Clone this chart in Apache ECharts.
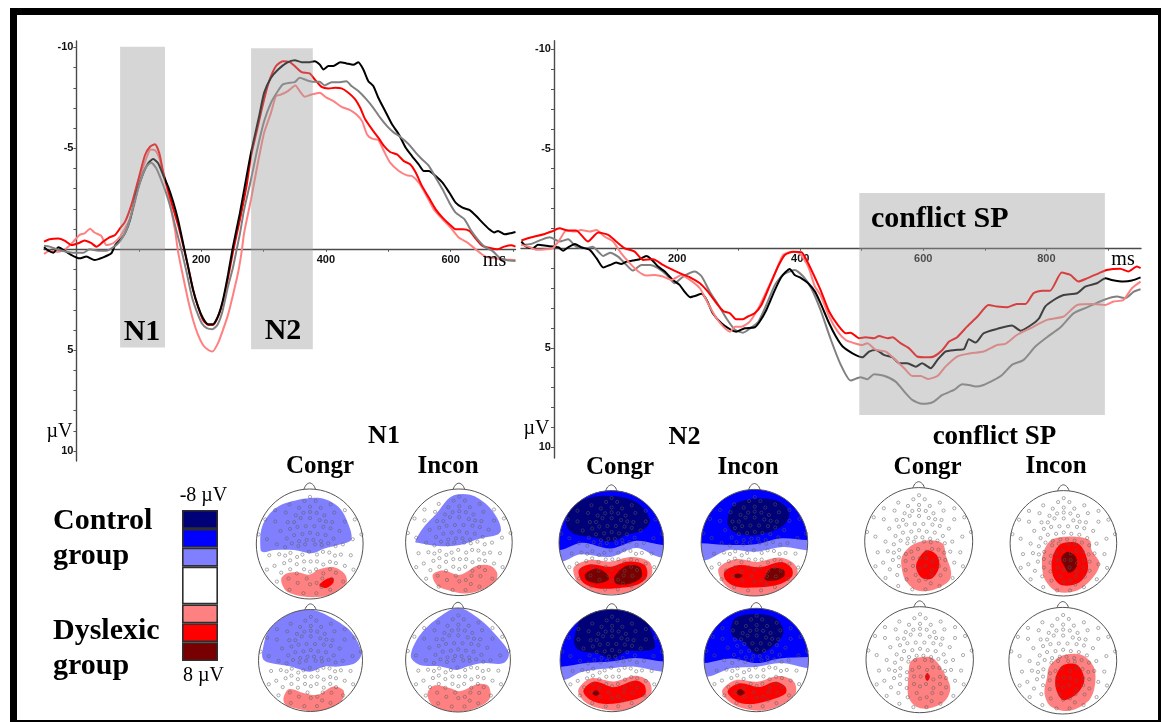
<!DOCTYPE html>
<html><head><meta charset="utf-8">
<style>html,body{margin:0;padding:0;background:#fff;}#c{width:1161px;height:722px;filter:blur(0.5px);}</style>
<script src="https://cdn.jsdelivr.net/npm/echarts@6/dist/echarts.min.js"></script>
</head><body><div id="c"></div>
<script>
// ---------- ERP waveforms, left panel: [ms, microvolt]
const leftBlack=[[-52,-0.1],[-45,0.07],[-37,0.17],[-29,-0.1],[-21,0.03],[-11,0.23],[5,0.45],[16,0.36],[29,0.53],[43,0.4],[56,0.2],[62,-0.2],[70,-0.46],[78,-0.8],[86,-1.45],[96,-2.77],[107,-3.76],[115,-4.26],[123,-4.47],[131,-4.26],[139,-3.68],[147,-3.1],[155,-2.36],[163,-1.45],[171,-0.3],[179,0.86],[187,2.0],[195,2.84],[203,3.42],[211,3.71],[219,3.71],[227,3.33],[235,2.5],[243,1.27],[251,-0.13],[262,-1.78],[269,-2.97],[280,-4.8],[293,-6.6],[301,-7.76],[312,-8.5],[323,-8.9],[337,-9.24],[350,-9.37],[361,-9.27],[372,-9.27],[382,-9.32],[390,-9.16],[396,-8.91],[404,-9.08],[412,-9.08],[423,-9.27],[433,-9.21],[444,-9.14],[452,-9.27],[460,-8.91],[468,-8.33],[476,-8.09],[484,-7.51],[495,-6.85],[506,-6.19],[517,-5.69],[528,-5.03],[538,-4.62],[549,-4.2],[557,-3.88],[565,-3.88],[576,-3.63],[587,-3.3],[598,-2.8],[608,-2.31],[619,-2.06],[630,-1.95],[641,-1.65],[651,-1.32],[662,-0.99],[670,-0.83],[676,-0.91],[687,-0.74],[695,-0.79],[704,-0.86]];
const leftGray=[[-52,-0.17],[-43,-0.13],[-32,0],[-16,0.12],[-5,0.17],[11,0.17],[21,0],[35,0.07],[48,0.07],[59,-0.1],[67,-0.3],[75,-0.63],[83,-1.2],[94,-2.44],[104,-3.51],[112,-4.09],[120,-4.29],[128,-4.01],[136,-3.43],[144,-2.77],[152,-1.95],[160,-0.96],[169,0.12],[177,1.19],[185,2.34],[193,3.09],[201,3.66],[209,3.91],[218,3.96],[226,3.75],[234,3.09],[243,1.85],[251,0.9],[257,0],[262,-0.75],[269,-1.98],[280,-3.47],[291,-5.1],[301,-6.35],[312,-7.26],[323,-7.84],[331,-8.17],[342,-8.25],[350,-8.28],[358,-8.5],[369,-8.38],[380,-8.3],[390,-8.3],[398,-8.12],[409,-8.28],[420,-8.28],[433,-8.33],[441,-8.09],[452,-7.84],[465,-7.43],[476,-7.01],[487,-6.52],[498,-6.1],[509,-5.78],[519,-5.58],[533,-5.2],[544,-4.79],[554,-4.46],[565,-4.13],[576,-3.55],[587,-2.97],[598,-2.31],[608,-1.82],[622,-1.49],[633,-0.91],[643,-0.5],[654,-0.13],[667,0.08],[678,0.41],[689,0.53],[704,0.58]];
const leftRed=[[-52,-0.38],[-43,-0.5],[-29,-0.54],[-19,-0.43],[-8,-0.21],[3,-0.3],[13,-0.43],[24,-0.3],[32,-0.13],[43,-0.38],[53,-0.59],[62,-0.71],[70,-1.04],[78,-1.37],[88,-2.19],[99,-3.43],[110,-4.67],[118,-5.08],[126,-5.21],[133,-4.75],[139,-3.84],[147,-2.94],[155,-2.03],[163,-1.2],[171,-0.21],[179,0.86],[187,2.0],[195,2.84],[203,3.5],[211,3.75],[219,3.75],[227,3.33],[235,2.6],[243,1.44],[251,0.12],[262,-1.45],[273,-3.18],[280,-4.62],[291,-6.1],[301,-7.43],[309,-8.33],[320,-9.08],[331,-9.32],[342,-9.27],[350,-9.08],[361,-8.78],[374,-8.71],[382,-8.42],[393,-8.05],[404,-7.97],[415,-8],[425,-7.97],[436,-7.76],[447,-7.43],[455,-7.01],[463,-6.44],[474,-5.94],[484,-5.53],[493,-5.12],[503,-4.82],[514,-4.7],[525,-4.37],[535,-4.21],[544,-3.8],[554,-3.14],[565,-2.56],[576,-1.98],[587,-1.57],[598,-1.24],[608,-0.99],[619,-0.99],[630,-0.91],[641,-0.5],[651,-0.17],[665,-0.05],[675,0],[686,-0.13],[697,-0.2],[704,-0.13]];
const leftPink=[[-52,0.23],[-43,0.07],[-29,0.12],[-16,-0.05],[-5,-0.38],[5,-0.71],[13,-0.79],[22,-1.02],[29,-0.83],[40,-0.66],[48,-0.21],[59,-0.3],[70,-0.63],[78,-1.04],[86,-1.53],[94,-2.36],[104,-3.76],[112,-4.5],[119,-4.95],[127,-4.88],[134,-4.42],[140,-3.6],[147,-2.77],[152,-1.95],[158,-0.96],[163,0.12],[171,1.35],[179,2.51],[187,3.5],[195,4.24],[203,4.74],[211,4.98],[218,5.07],[227,4.65],[235,3.99],[243,3.25],[251,2.26],[259,1.19],[265,0.1],[269,-0.83],[280,-2.48],[291,-4.29],[301,-5.78],[312,-6.77],[320,-7.59],[328,-7.67],[339,-7.84],[351,-8.12],[358,-7.84],[366,-7.56],[377,-7.67],[390,-7.76],[401,-7.51],[412,-7.34],[425,-7.06],[439,-6.9],[449,-6.68],[458,-6.35],[466,-5.69],[474,-5.48],[484,-5.41],[493,-4.87],[503,-4.29],[517,-3.88],[530,-3.66],[538,-3.63],[549,-3.3],[560,-2.72],[573,-1.98],[587,-1.49],[600,-1.07],[613,-0.58],[627,-0.33],[640,0],[656,0.36],[673,0.46],[689,0.5],[704,0.53]];
// ---------- ERP waveforms, right panel
const rightBlack=[[-53,-0.34],[-45,-0.08],[-34,0],[-26,-0.17],[-12,-0.12],[7,-0.05],[15,0.12],[23,-0.05],[34,-0.22],[44,-0.05],[58,0.08],[69,0.5],[80,0.97],[91,0.84],[101,0.72],[109,0.79],[118,0.67],[128,0.62],[139,0.55],[150,0.39],[158,0.55],[169,0.92],[180,1.17],[193,1.59],[204,1.84],[212,2.18],[221,2.46],[229,2.4],[240,2.29],[248,2.6],[258,3.27],[272,3.77],[286,4.07],[296,4.19],[310,4.02],[326,3.97],[334,3.69],[345,3.1],[359,2.09],[370,1.42],[383,1.04],[391,1.34],[402,1.51],[413,1.76],[424,2.18],[433,2.76],[447,3.77],[458,4.44],[469,4.94],[485,5.28],[501,5.48],[512,5.19],[523,5.11],[536,5.36],[550,5.48],[561,5.78],[574,5.78],[588,5.95],[598,5.78],[612,6.03],[623,5.61],[636,5.19],[652,5.11],[666,5.07],[674,4.57],[685,4.74],[698,4.27],[720,4.05],[744,3.88],[758,4.14],[774,3.88],[788,3.52],[798,2.93],[812,2.6],[828,2.35],[850,2.26],[863,1.93],[882,1.76],[896,1.51],[906,1.59],[925,1.67],[939,1.62],[953,1.46]];
const rightGray=[[-53,-0.17],[-37,-0.22],[-21,-0.42],[-7,-0.55],[9,-0.34],[23,-0.45],[36,-0.08],[53,0],[63,-0.08],[72,0.17],[80,0.39],[91,0.22],[104,0.42],[115,0.75],[128,1.12],[142,0.84],[156,0.84],[169,1.0],[183,1.34],[196,1.76],[210,1.42],[229,1.17],[240,1.42],[253,2.18],[267,2.85],[280,3.52],[294,4.1],[307,4.24],[321,3.97],[332,3.69],[345,2.85],[359,1.84],[372,1.34],[391,1.09],[405,1.42],[418,2.01],[433,3.1],[450,4.61],[466,5.86],[482,6.65],[498,6.48],[509,6.58],[520,6.33],[536,6.41],[555,6.7],[569,7.2],[582,7.62],[598,7.82],[615,7.74],[631,7.37],[650,7.12],[663,6.83],[674,6.87],[685,6.95],[698,6.87],[715,6.62],[728,6.37],[744,5.86],[763,5.61],[782,4.94],[801,4.47],[823,3.97],[844,3.27],[866,2.97],[893,2.6],[915,2.43],[928,2.51],[942,2.18],[953,2.06]];
const rightRed=[[-53,-0.39],[-37,-0.55],[-15,-0.72],[-4,-0.84],[9,-1.0],[23,-0.89],[36,-0.89],[55,-0.34],[72,-0.79],[88,-0.67],[101,-0.34],[115,0],[131,0.17],[145,0.59],[161,0.55],[177,0.84],[193,1.09],[207,1.29],[221,1.46],[237,1.76],[250,2.18],[264,2.76],[275,3.15],[286,3.27],[296,3.57],[307,3.57],[315,3.43],[326,3.27],[337,2.85],[351,1.84],[364,0.92],[375,0.34],[389,0.17],[402,0.2],[413,0.75],[427,1.68],[433,2.09],[447,3.18],[461,3.85],[474,4.27],[482,4.24],[496,4.52],[506,4.47],[520,4.52],[528,4.41],[542,4.52],[550,4.47],[563,4.77],[577,5.03],[590,5.44],[606,5.48],[617,5.44],[631,5.11],[642,4.69],[655,4.47],[671,3.94],[688,3.43],[706,2.85],[720,2.93],[736,2.97],[752,2.8],[766,2.8],[779,2.26],[793,2.13],[806,2.13],[825,1.22],[839,1.34],[852,1.67],[866,1.51],[885,1.26],[898,1.09],[920,1.03],[933,1.17],[947,0.92],[953,1.0]];
const rightPink=[[-53,-0.17],[-39,-0.05],[-29,0.08],[-12,0.05],[-2,0],[9,-0.42],[20,-0.89],[34,-0.84],[44,-0.92],[58,-0.84],[69,-0.92],[82,-0.59],[96,-0.34],[109,0.25],[123,0.75],[137,1.17],[150,1.37],[164,1.34],[177,1.42],[191,1.59],[207,1.34],[221,1.59],[237,2.01],[250,2.76],[264,3.52],[275,3.94],[286,4.19],[294,3.94],[305,3.94],[318,3.69],[332,3.02],[345,2.18],[359,1.26],[372,0.34],[386,0.17],[399,0.25],[413,0.92],[424,1.93],[433,2.35],[447,3.43],[461,4.19],[474,4.61],[488,4.77],[501,4.86],[509,4.77],[523,5.11],[539,5.19],[555,5.61],[569,6.03],[582,6.42],[596,6.42],[608,6.57],[623,6.42],[636,5.95],[655,5.44],[677,5.28],[698,5.19],[720,4.86],[733,4.81],[752,4.36],[774,4.02],[801,3.6],[828,3.43],[850,2.85],[877,2.8],[896,2.85],[909,2.68],[925,2.6],[939,2.01],[953,1.68]];
// analysis windows: [ms start, uV top, ms end, uV bottom]
const leftWindows=[[70,-10.03,142,4.87],[280,-9.96,379,4.95]];
const rightWindows=[[496,-2.78,895,8.38]];
const yTicks=[-10,-9,-8,-7,-6,-5,-4,-3,-2,-1,1,2,3,4,5,6,7,8,9,10];
const yLabels=[-10,-5,5,10];
const leftXTicks=[100,200,300,400,500,600,700], leftXLabels=[200,400,600];
const rightXTicks=[100,200,300,400,500,600,700,800,900], rightXLabels=[200,400,600,800];
// colour scale
const levelNames=['navy','blue','pale','white','pink','red','dark'];
const levelSpans=[1,1,1,2,1,1,1];
const levelColors={navy:'#000078',blue:'#0000ff',pale:'#8080ff',white:'#ffffff',pink:'#ff8080',red:'#ff0000',dark:'#780000'};
// electrode montage (scalp positions, image units)
const electrodes=[[235,46],[218,58],[252,58],[173,68],[297,68],[235,75],[202,78],[267,78],[235,90],[215,93],[255,93],[130,85],[340,85],[162,92],[308,92],[192,100],[278,100],[235,108],[207,108],[100,112],[370,112],[130,118],[340,118],[168,120],[302,120],[187,120],[283,118],[264,114],[222,132],[248,132],[197,134],[275,134],[175,140],[297,138],[146,146],[324,146],[235,151],[212,155],[258,155],[187,158],[282,158],[165,168],[306,168],[80,156],[390,156],[105,170],[364,170],[225,172],[245,172],[202,176],[268,176],[180,182],[290,182],[135,185],[334,185],[160,193],[312,190],[200,190],[220,185],[250,185],[270,187],[176,210],[142,214],[160,218],[112,217],[358,217],[196,222],[212,215],[232,207],[256,215],[274,207],[293,209],[310,218],[328,215],[175,232],[195,243],[157,240],[128,248],[340,248],[105,259],[366,259],[217,235],[237,235],[256,235],[275,244],[295,236],[313,240],[148,268],[175,258],[195,270],[217,258],[235,265],[253,258],[275,270],[295,258],[313,268],[135,294],[170,285],[198,298],[225,285],[255,298],[272,285],[299,286],[335,294],[235,302],[270,310],[173,318],[296,318],[215,328],[254,328]];
// potential maps: [level, contour, optional 'band' = region above an edge]
const n1CongrControl=[['pale',[[-0.92,-0.11],[-0.89,0.32],[-0.64,0.65],[-0.23,0.8],[0.22,0.83],[0.53,0.68],[0.69,0.44],[0.78,0.08],[0.53,-0.02],[0.28,-0.08],[0.03,-0.17],[-0.29,-0.11],[-0.67,-0.11],[-0.86,-0.15]]],['pink',[[-0.53,-0.62],[-0.42,-0.53],[-0.2,-0.52],[-0.01,-0.56],[0.18,-0.46],[0.44,-0.42],[0.66,-0.55],[0.69,-0.72],[0.53,-0.87],[0.22,-0.96],[-0.16,-0.95],[-0.42,-0.87],[-0.51,-0.75]]],['red',[[0.18,-0.75],[0.31,-0.64],[0.44,-0.62],[0.44,-0.71],[0.31,-0.8]]]];
const n1InconControl=[['pale',[[-0.82,0.01],[-0.68,0.26],[-0.42,0.54],[-0.14,0.86],[0.21,0.89],[0.53,0.7],[0.72,0.45],[0.79,0.23],[0.72,0.14],[0.4,0.07],[0.02,-0.05],[-0.39,-0.07],[-0.77,-0.01]]],['pink',[[-0.49,-0.61],[-0.3,-0.53],[0.02,-0.61],[0.34,-0.44],[0.59,-0.44],[0.72,-0.58],[0.68,-0.74],[0.43,-0.89],[0.11,-0.96],[-0.23,-0.89],[-0.42,-0.8]]]];
const n1CongrDyslexic=[['pale',[[-0.93,0.14],[-0.8,0.6],[-0.44,0.9],[0,1],[0.47,0.8],[0.8,0.54],[0.98,0.14],[0.86,-0.05],[0.54,-0.12],[0.27,-0.12],[-0.02,-0.22],[-0.38,-0.12],[-0.77,-0.05],[-0.9,0.01]]],['pink',[[-0.52,-0.74],[-0.41,-0.56],[-0.12,-0.64],[0.14,-0.67],[0.44,-0.51],[0.63,-0.58],[0.63,-0.74],[0.47,-0.9],[0.08,-1.0],[-0.31,-0.93],[-0.48,-0.87]]]];
const n1InconDyslexic=[['pale',[[-0.9,0.07],[-0.74,0.46],[-0.42,0.78],[0,1],[0.42,0.78],[0.74,0.46],[0.97,0.13],[0.87,-0.06],[0.48,-0.06],[0.19,-0.12],[-0.03,-0.19],[-0.35,-0.12],[-0.74,-0.09]]],['pink',[[-0.58,-0.63],[-0.45,-0.49],[-0.16,-0.54],[0.03,-0.6],[0.39,-0.46],[0.58,-0.5],[0.61,-0.73],[0.42,-0.89],[0.1,-0.99],[-0.29,-0.96],[-0.52,-0.83]]]];
const n2CongrControl=[['pale',[[-0.94,-0.36],[-0.59,-0.22],[-0.02,-0.27],[0.48,-0.1],[0.91,-0.27]],'band'],['blue',[[-0.98,-0.14],[-0.55,0],[-0.02,-0.11],[0.48,0.04],[0.98,-0.04]],'band'],['navy',[[-0.86,0.34],[-0.75,0.69],[-0.4,0.87],[0.1,0.89],[0.52,0.75],[0.74,0.43],[0.6,0.24],[0.29,0.15],[-0.02,0.02],[-0.32,0.1],[-0.71,0.17]]],['pink',[[-0.71,-0.46],[-0.4,-0.33],[-0.02,-0.36],[0.37,-0.27],[0.72,-0.36],[0.78,-0.59],[0.6,-0.84],[0.22,-0.97],[-0.21,-0.97],[-0.55,-0.87],[-0.69,-0.68]]],['red',[[-0.62,-0.52],[-0.4,-0.41],[-0.02,-0.46],[0.33,-0.36],[0.64,-0.43],[0.68,-0.65],[0.48,-0.81],[0.1,-0.87],[-0.28,-0.87],[-0.55,-0.75]]],['dark',[[-0.5,-0.6],[-0.28,-0.49],[-0.09,-0.59],[-0.05,-0.71],[-0.28,-0.78],[-0.48,-0.71]]],['dark',[[0.06,-0.65],[0.29,-0.44],[0.54,-0.46],[0.58,-0.65],[0.37,-0.78],[0.1,-0.79]]]];
const n2InconControl=[['pale',[[-0.92,-0.33],[-0.5,-0.14],[0.02,-0.17],[0.55,-0.08],[0.98,-0.14]],'band'],['blue',[[-0.99,-0.01],[-0.58,-0.04],[0.02,-0.03],[0.47,0.08],[1,0.05]],'band'],['navy',[[-0.5,0.46],[-0.39,0.71],[0.02,0.83],[0.47,0.77],[0.66,0.55],[0.51,0.3],[0.02,0.14],[-0.35,0.18],[-0.5,0.33]]],['pink',[[-0.67,-0.48],[-0.35,-0.31],[0.06,-0.36],[0.47,-0.28],[0.74,-0.39],[0.81,-0.58],[0.62,-0.82],[0.17,-1.0],[-0.28,-0.95],[-0.58,-0.76]]],['red',[[-0.56,-0.54],[-0.28,-0.42],[0.1,-0.46],[0.51,-0.36],[0.7,-0.48],[0.7,-0.64],[0.44,-0.79],[0.02,-0.84],[-0.35,-0.82],[-0.54,-0.7]]],['dark',[[-0.39,-0.62],[-0.32,-0.58],[-0.22,-0.62],[-0.32,-0.67]]],['dark',[[0.19,-0.67],[0.32,-0.48],[0.55,-0.51],[0.55,-0.64],[0.32,-0.72]]]];
const n2CongrDyslexic=[['pale',[[-0.92,-0.38],[-0.57,-0.22],[-0.02,-0.15],[0.45,-0.12],[0.98,-0.22]],'band'],['blue',[[-0.98,-0.12],[-0.49,-0.05],[-0.02,-0.02],[0.45,0.05],[1,-0.02]],'band'],['navy',[[-0.73,0.4],[-0.57,0.86],[-0.26,0.99],[0.29,1],[0.64,0.8],[0.84,0.27],[0.68,0.19],[0.29,0.18],[0.02,0.03],[-0.26,0.13],[-0.65,0.21]]],['pink',[[-0.65,-0.58],[-0.41,-0.35],[0.05,-0.41],[0.45,-0.3],[0.72,-0.41],[0.76,-0.64],[0.52,-0.87],[0.13,-0.98],[-0.26,-0.93],[-0.53,-0.8]]],['red',[[-0.55,-0.59],[-0.34,-0.41],[0.05,-0.52],[0.45,-0.39],[0.63,-0.48],[0.64,-0.67],[0.37,-0.78],[-0.1,-0.85],[-0.41,-0.77]]],['dark',[[-0.38,-0.64],[-0.3,-0.58],[-0.24,-0.64],[-0.3,-0.69]]]];
const n2InconDyslexic=[['pale',[[-0.92,-0.32],[-0.48,-0.16],[0.02,-0.13],[0.48,-0.06],[1,-0.16]],'band'],['blue',[[-0.99,-0.06],[-0.48,0.03],[0.02,-0.06],[0.45,0.03],[1,0.06]],'band'],['navy',[[-0.49,0.58],[-0.4,0.81],[-0.02,0.89],[0.37,0.81],[0.52,0.55],[0.41,0.35],[0.02,0.11],[-0.25,0.35],[-0.44,0.45]]],['pink',[[-0.65,-0.58],[-0.4,-0.39],[0.02,-0.42],[0.45,-0.31],[0.72,-0.42],[0.75,-0.65],[0.48,-0.87],[0.06,-0.98],[-0.36,-0.9],[-0.59,-0.74]]],['red',[[-0.55,-0.61],[-0.32,-0.45],[0.06,-0.52],[0.37,-0.42],[0.56,-0.52],[0.56,-0.65],[0.29,-0.77],[-0.05,-0.85],[-0.36,-0.81]]],['dark',[[-0.38,-0.63],[-0.31,-0.56],[-0.22,-0.63],[-0.31,-0.69]]]];
const spCongrControl=[['pink',[[-0.31,-0.29],[-0.12,-0.07],[0.18,0.02],[0.44,-0.04],[0.51,-0.29],[0.6,-0.57],[0.55,-0.75],[0.25,-0.91],[-0.04,-0.91],[-0.23,-0.75],[-0.31,-0.53]]],['red',[[-0.03,-0.38],[0.14,-0.17],[0.33,-0.25],[0.38,-0.47],[0.25,-0.69],[0.07,-0.69],[-0.04,-0.53]]]];
const spInconControl=[['pink',[[-0.38,-0.19],[-0.23,0.06],[0.15,0.13],[0.49,0.06],[0.53,-0.13],[0.68,-0.38],[0.57,-0.63],[0.27,-0.89],[-0.11,-0.92],[-0.34,-0.7],[-0.4,-0.44]]],['red',[[-0.2,-0.25],[-0.04,-0.01],[0.27,0],[0.43,-0.25],[0.45,-0.54],[0.27,-0.76],[-0.04,-0.79],[-0.2,-0.6]]],['dark',[[-0.04,-0.28],[0.08,-0.16],[0.23,-0.25],[0.25,-0.44],[0.11,-0.56],[0.02,-0.44]]]];
const spCongrDyslexic=[['pink',[[-0.17,-0.04],[-0.02,0.04],[0.24,0.03],[0.46,-0.26],[0.57,-0.54],[0.46,-0.79],[0.16,-0.92],[-0.06,-0.89],[-0.21,-0.7],[-0.21,-0.32]]],['red',[[0.1,-0.32],[0.14,-0.25],[0.19,-0.32],[0.14,-0.4]]]];
const spInconDyslexic=[['pink',[[-0.25,-0.11],[-0.03,0.09],[0.34,0.11],[0.57,-0.11],[0.6,-0.43],[0.49,-0.74],[0.12,-0.94],[-0.22,-0.86],[-0.34,-0.61],[-0.29,-0.3]]],['red',[[-0.13,-0.3],[0.01,-0.08],[0.27,-0.08],[0.4,-0.36],[0.27,-0.61],[0.01,-0.74],[-0.12,-0.55]]]];

// ---------- layout
const heads=[
 {map:n1CongrControl,cx:309.7,cy:544,rx:53.4,ry:55},{map:n1InconControl,cx:458.9,cy:542.3,rx:53.3,ry:53.3},
 {map:n1CongrDyslexic,cx:310.5,cy:660.5,rx:52,ry:51},{map:n1InconDyslexic,cx:458,cy:660,rx:52.4,ry:52},
 {map:n2CongrControl,cx:611.3,cy:542.8,rx:52.3,ry:52.2},{map:n2InconControl,cx:754.4,cy:542.7,rx:53.3,ry:53.3},
 {map:n2CongrDyslexic,cx:611.8,cy:660.5,rx:51.7,ry:51.2},{map:n2InconDyslexic,cx:756.3,cy:660,rx:52.2,ry:51.7},
 {map:spCongrControl,cx:918.7,cy:541.3,rx:54,ry:53.7},{map:spInconControl,cx:1063.4,cy:543.3,rx:53.3,ry:52.7},
 {map:spCongrDyslexic,cx:919.7,cy:659.7,rx:53.7,ry:53},{map:spInconDyslexic,cx:1062.8,cy:660.7,rx:53.9,ry:53.3}];
const serif='"Liberation Serif","Times New Roman",serif', sans='"Liberation Sans",Arial,sans-serif';
const grid=[],xAxis=[],yAxis=[],series=[];
function waveAxes(g,xr,yr,xt,xl){
  const i=grid.length; grid.push(g);
  const axLine={onZero:false,lineStyle:{color:'#4a4a4a',width:1.4}};
  const lab={fontFamily:sans,fontWeight:'bold',fontSize:11,color:'#111'};
  const xOff=g.width*(0-xr[0])/(xr[1]-xr[0]);            // y axis sits at 0 ms
  const yOff=g.height*(yr[1]-0)/(yr[1]-yr[0]);            // x axis sits at 0 uV
  xAxis.push({type:'value',gridIndex:i,position:'bottom',offset:-yOff,min:xr[0],max:xr[1],splitLine:{show:false},axisLine:axLine,
    axisTick:{show:true,length:2.5,customValues:xt,lineStyle:{color:'#555'}},
    axisLabel:Object.assign({customValues:xl,margin:5},lab)});
  yAxis.push({type:'value',gridIndex:i,position:'left',offset:-xOff,inverse:true,min:yr[0],max:yr[1],splitLine:{show:false},axisLine:axLine,
    axisTick:{show:true,length:3,customValues:yTicks,lineStyle:{color:'#555'}},
    axisLabel:Object.assign({customValues:yLabels,margin:3},lab)});
  return i;
}
function line(i,data,color){series.push({type:'line',xAxisIndex:i,yAxisIndex:i,data,showSymbol:false,symbol:'none',smooth:0.2,z:3,silent:true,
  lineStyle:{color,width:2},animation:false});}
function windows(i,data){series.push({type:'custom',xAxisIndex:i,yAxisIndex:i,z:10,silent:true,clip:false,animation:false,data,
  renderItem:(p,api)=>{const a=api.coord([api.value(0),api.value(1)]),b=api.coord([api.value(2),api.value(3)]);
    return {type:'rect',shape:{x:a[0],y:a[1],width:b[0]-a[0],height:b[1]-a[1]},style:{fill:'rgba(156,156,156,0.41)'}};},
  encode:{x:[0,2],y:[1,3]}});}
const L=waveAxes({left:44,top:41,width:471.5,height:420},[-52,704],[-10.32,10.49],leftXTicks,leftXLabels);
[[leftPink,'#ff8080'],[leftRed,'#ff0000'],[leftBlack,'#000000'],[leftGray,'#808080']].forEach(s=>line(L,s[0],s[1]));
windows(L,leftWindows);
const R=waveAxes({left:521,top:40.7,width:620,height:417.3},[-53.6,953.7],[-10.43,10.54],rightXTicks,rightXLabels);
[[rightGray,'#808080'],[rightBlack,'#000000'],[rightPink,'#ff8080'],[rightRed,'#ff0000']].forEach(s=>line(R,s[0],s[1]));
windows(R,rightWindows);

// colour bar
(function(){const i=grid.length;grid.push({left:182,top:510,width:36,height:151});
  xAxis.push({type:'category',gridIndex:i,data:['scale'],show:false});
  yAxis.push({type:'value',gridIndex:i,inverse:true,min:0,max:8,show:false});
  levelNames.forEach((n,k)=>series.push({type:'bar',xAxisIndex:i,yAxisIndex:i,stack:'scale',barWidth:'100%',silent:true,animation:false,
    data:[levelSpans[k]],itemStyle:{color:levelColors[n],borderColor:'#2e2e2e',borderWidth:1.6}}));
})();

// scalp maps
function band(edge){const a=edge[0],b=edge[edge.length-1];return edge.concat([[1.5,b[1]],[1.5,1.5],[-1.5,1.5],[-1.5,a[1]]]);}
const montage=electrodes.map(e=>[(e[0]-234)/161,(184-e[1])/161]);
heads.forEach(h=>{
  const i=grid.length;
  grid.push({left:h.cx-h.rx,top:h.cy-h.ry,width:2*h.rx,height:2*h.ry});
  xAxis.push({type:'value',gridIndex:i,min:-1,max:1,show:false});
  yAxis.push({type:'value',gridIndex:i,min:-1,max:1,show:false});
  series.push({type:'custom',xAxisIndex:i,yAxisIndex:i,z:4,silent:true,clip:false,animation:false,data:h.map.map((m,k)=>[0,0,k]),
    encode:{x:0,y:1},
    renderItem:(p,api)=>{
      const m=h.map[p.dataIndex];const pts=(m[2]==='band'?band(m[1]):m[1]).map(q=>api.coord(q));
      const c=api.coord([0,0]),e=api.coord([1,1]);
      return {type:'polygon',shape:{points:pts,smooth:0.33},style:{fill:levelColors[m[0]]},
        clipPath:{type:'ellipse',shape:{cx:c[0],cy:c[1],rx:e[0]-c[0],ry:c[1]-e[1]}}};
    }});
  series.push({type:'scatter',xAxisIndex:i,yAxisIndex:i,z:5,silent:true,animation:false,data:montage,symbol:'circle',symbolSize:3.2,
    itemStyle:{color:'rgba(0,0,0,0)',borderColor:'#5a5a5a',borderWidth:0.7,opacity:0.7}});
  series.push({type:'custom',xAxisIndex:i,yAxisIndex:i,z:6,silent:true,clip:false,animation:false,data:[[0,0]],encode:{x:0,y:1},
    renderItem:(p,api)=>{
      const c=api.coord([0,0]),e=api.coord([1,1]);
      return {type:'group',children:[
        {type:'ellipse',shape:{cx:c[0],cy:c[1],rx:e[0]-c[0],ry:c[1]-e[1]},style:{fill:'none',stroke:'#555',lineWidth:1}},
        {type:'polyline',shape:{points:[[-0.11,0.99],[-0.07,1.07],[0,1.11],[0.07,1.07],[0.11,0.99]].map(q=>api.coord(q)),smooth:0.33},style:{fill:'none',stroke:'#555',lineWidth:1}}
      ]};
    }});
});

// text + frame
function T(text,x,y,size,bold,align){return {type:'text',z:20,silent:true,style:{text,x,y,font:(bold?'bold ':'')+size+'px '+serif,fill:'#000',align:align||'center',verticalAlign:'middle'}};}
const frame=[[10,8,1151,7],[10,8,7,714],[1158,8,3,714],[10,720,1151,2]].map(r=>({type:'rect',z:30,silent:true,shape:{x:r[0],y:r[1],width:r[2],height:r[3]},style:{fill:'#000'}}));
const texts=[
 T('N1',142,332,30,true),T('N2',283,331,30,true),T('conflict SP',871,219,30,true,'left'),
 T('N1',384,436,26,true),T('N2',684.5,437,26,true),T('conflict SP',994.5,437,27,true),
 T('Congr',320,467,25,true),T('Incon',448,467,25,true),T('Congr',620,468,25,true),T('Incon',748,468,25,true),T('Congr',927.6,468,25,true),T('Incon',1056,467,25,true),
 T('Control',53,521,30,true,'left'),T('group',53,556,30,true,'left'),T('Dyslexic',53,631,30,true,'left'),T('group',53,666,30,true,'left'),
 T('-8 µV',203.5,496,20,false),T('8 µV',203.5,676,20,false),
 T('µV',59.5,432,20,false),T('µV',536.5,429,20,false),
 T('ms',494.5,261,20,false),T('ms',1123,260,20,false)];
const chart=echarts.init(document.getElementById('c'),null,{renderer:'canvas'});
chart.setOption({animation:false,backgroundColor:'#fff',grid,xAxis,yAxis,series,graphic:{elements:frame.concat(texts)}});
</script></body></html>
